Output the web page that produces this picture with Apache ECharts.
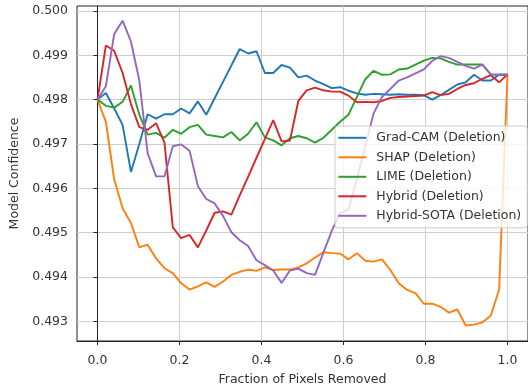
<!DOCTYPE html>
<html>
<head>
<meta charset="utf-8">
<script src="https://cdn.jsdelivr.net/npm/echarts@6/dist/echarts.min.js"></script>
<style>
  html, body { margin: 0; padding: 0; background: #fff; }
  #main { width: 528px; height: 391px; }
</style>
</head>
<body>
<div id="main"></div>
<script>
// fraction of pixels removed (50 steps from 0 to 1)
const fractions = [
  0, 0.0204, 0.0408, 0.0612, 0.0816, 0.1020, 0.1224, 0.1429, 0.1633, 0.1837,
  0.2041, 0.2245, 0.2449, 0.2653, 0.2857, 0.3061, 0.3265, 0.3469, 0.3673, 0.3878,
  0.4082, 0.4286, 0.4490, 0.4694, 0.4898, 0.5102, 0.5306, 0.5510, 0.5714, 0.5918,
  0.6122, 0.6327, 0.6531, 0.6735, 0.6939, 0.7143, 0.7347, 0.7551, 0.7755, 0.7959,
  0.8163, 0.8367, 0.8571, 0.8776, 0.8980, 0.9184, 0.9388, 0.9592, 0.9796, 1.0
];

const gradCam = [
  0.4980, 0.49815, 0.4978, 0.49743, 0.49637, 0.4970, 0.49767, 0.49757, 0.49767, 0.49767,
  0.4978, 0.49769, 0.49796, 0.49766, 0.49803, 0.4984, 0.49877, 0.49914, 0.49904, 0.49909,
  0.4986, 0.4986, 0.49878, 0.49872, 0.4985, 0.49854, 0.49843, 0.49835, 0.49826, 0.49828,
  0.4982, 0.49814, 0.49811, 0.49813, 0.49812, 0.49811, 0.49812, 0.49811, 0.49811, 0.4981,
  0.4980, 0.4981, 0.49822, 0.49834, 0.49839, 0.49856, 0.49843, 0.49843, 0.49856, 0.49856
];

const shap = [
  0.4980, 0.4975, 0.4962, 0.49555, 0.49522, 0.49467, 0.49473, 0.49442, 0.4942, 0.49409,
  0.49386, 0.49372, 0.49379, 0.49388, 0.49378, 0.4939, 0.49405, 0.49412, 0.49417, 0.49414,
  0.49422, 0.49416, 0.49417, 0.49417, 0.49422, 0.49431, 0.49444, 0.49456, 0.49454, 0.49453,
  0.4944, 0.49454, 0.49437, 0.49435, 0.4944, 0.49416, 0.49386, 0.49371, 0.49364, 0.4934,
  0.4934, 0.49333, 0.4932, 0.49327, 0.49291, 0.49293, 0.49298, 0.49313, 0.49372, 0.49857
];

const lime = [
  0.4980, 0.49786, 0.49782, 0.49795, 0.49832, 0.49766, 0.49721, 0.49725, 0.49714, 0.49732,
  0.49723, 0.49738, 0.49743, 0.49721, 0.49718, 0.49715, 0.49727, 0.49708, 0.49723, 0.49749,
  0.49715, 0.49708, 0.49697, 0.49713, 0.49718, 0.49713, 0.49703, 0.49714, 0.49732, 0.4975,
  0.49766, 0.49806, 0.49846, 0.49865, 0.49856, 0.49857, 0.49868, 0.4987, 0.49879, 0.49888,
  0.49894, 0.49893, 0.49885, 0.49879, 0.49879, 0.49879, 0.49879, 0.49857, 0.49856, 0.49856
];

const hybrid = [
  0.4980, 0.49922, 0.4991, 0.4986, 0.4979, 0.49738, 0.49732, 0.49747, 0.49703, 0.49512,
  0.49488, 0.49495, 0.49467, 0.49505, 0.49545, 0.49548, 0.49541, 0.49584, 0.49626, 0.49669,
  0.49711, 0.49754, 0.49706, 0.49708, 0.49797, 0.49821, 0.49827, 0.49821, 0.49818, 0.49818,
  0.49809, 0.49794, 0.49795, 0.49794, 0.49797, 0.49804, 0.49806, 0.49807, 0.49808, 0.49809,
  0.49817, 0.4981, 0.49813, 0.49824, 0.49833, 0.49837, 0.49847, 0.49855, 0.49839, 0.49857
];

const hybridSota = [
  0.4980, 0.4983, 0.49948, 0.49978, 0.49931, 0.49843, 0.49679, 0.49627, 0.49627, 0.49695,
  0.49699, 0.49685, 0.49605, 0.49576, 0.49566, 0.49538, 0.49501, 0.49483, 0.4947, 0.49438,
  0.49427, 0.49415, 0.49387, 0.49415, 0.49419, 0.49409, 0.49405, 0.49455, 0.49504, 0.49545,
  0.49552, 0.49622, 0.49695, 0.49769, 0.49806, 0.49824, 0.49843, 0.4985, 0.49859, 0.49868,
  0.49887, 0.49898, 0.49894, 0.49885, 0.49876, 0.4987, 0.49879, 0.49857, 0.49856, 0.49856
];

const seriesNames = [
  "Grad-CAM (Deletion)", "SHAP (Deletion)", "LIME (Deletion)",
  "Hybrid (Deletion)", "Hybrid-SOTA (Deletion)"
];
const seriesValues = [gradCam, shap, lime, hybrid, hybridSota];
const colors = ["#1f77b4", "#ff7f0e", "#2ca02c", "#d62728", "#9467bd"];

const xTicks = [0, 0.2, 0.4, 0.6, 0.8, 1.0];
const yTicks = [0.493, 0.494, 0.495, 0.496, 0.497, 0.498, 0.499, 0.5];

const font = "DejaVu Sans";
const chart = echarts.init(document.getElementById("main"));

function toPairs(values) {
  return fractions.map((x, i) => [x, values[i]]);
}

chart.setOption({
  animation: false,
  textStyle: { fontFamily: font },
  color: colors,
  grid: {
    left: 77, top: 6, width: 460, height: 343,
    show: true, borderColor: "#222", borderWidth: 1
  },
  legend: {
    orient: "vertical",
    left: 335, top: 126,
    icon: "rect",
    itemWidth: 28, itemHeight: 2, itemGap: 5.5,
    padding: [4.8, 6, 5, 3.3],
    backgroundColor: "rgba(255,255,255,0.8)",
    borderColor: "#cccccc", borderWidth: 1, borderRadius: 3,
    textStyle: {
      fontFamily: font, fontSize: 12.5, color: "#333",
      lineHeight: 14, padding: [0, 0, 0, 5]
    },
    data: seriesNames
  },
  xAxis: {
    type: "value",
    min: -0.05, max: 1.05,
    name: "Fraction of Pixels Removed",
    nameLocation: "middle",
    nameGap: 32,
    nameTextStyle: { fontFamily: font, fontSize: 12.5, color: "#333" },
    axisLine: { lineStyle: { color: "#222", width: 1 } },
    axisTick: { show: true, length: 4, customValues: xTicks, lineStyle: { color: "#222" } },
    axisLabel: {
      customValues: xTicks, margin: 13,
      fontFamily: font, fontSize: 12.5, color: "#333",
      formatter: v => v.toFixed(1)
    },
    splitLine: { show: true, lineStyle: { color: "#cfcfcf", width: 1 } }
  },
  yAxis: {
    type: "value",
    min: 0.49256, max: 0.50011,
    name: "Model Confidence",
    nameLocation: "middle",
    nameRotate: 90,
    nameGap: 50,
    nameTextStyle: { fontFamily: font, fontSize: 12.5, color: "#333" },
    axisLine: { show: true, lineStyle: { color: "#222", width: 1 } },
    axisTick: { show: true, length: 4, customValues: yTicks, lineStyle: { color: "#222" } },
    axisLabel: {
      customValues: yTicks, margin: 9,
      fontFamily: font, fontSize: 12.5, color: "#333",
      formatter: v => v.toFixed(3)
    },
    splitLine: { show: true, lineStyle: { color: "#cfcfcf", width: 1 } }
  },
  series: seriesNames.map((name, i) => ({
    name: name,
    type: "line",
    data: toPairs(seriesValues[i]),
    symbol: "none",
    lineStyle: { width: 1.9, color: colors[i] },
    itemStyle: { color: colors[i] }
  }))
});
</script>
</body>
</html>
